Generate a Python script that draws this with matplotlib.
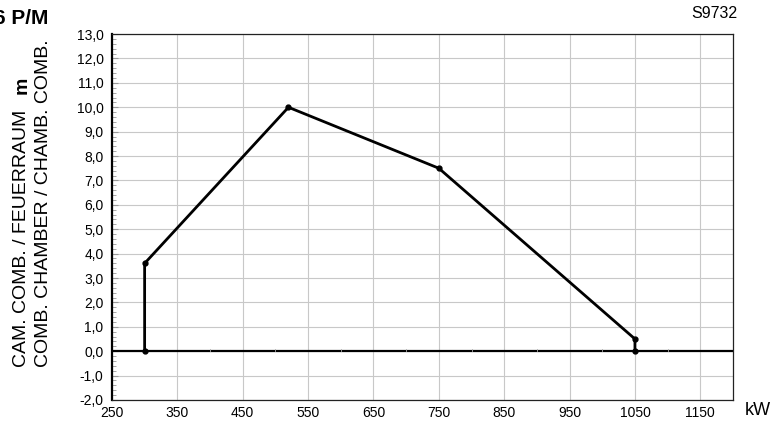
import numpy as np
import matplotlib as mpl
import matplotlib.pyplot as plt
from matplotlib.ticker import AutoMinorLocator

# working field of the burner: output (kW) vs combustion chamber pressure (m)
power_kw = [300, 300, 520, 750, 1050, 1050]
pressure_m = [0.0, 3.6, 10.0, 7.5, 0.5, 0.0]

x_ticks = [250, 350, 450, 550, 650, 750, 850, 950, 1050, 1150]
y_ticks = np.arange(-2, 14, 1)

mpl.rcParams['font.family'] = ['Liberation Sans', 'DejaVu Sans']

fig = plt.figure(figsize=(7.72, 4.21), dpi=100)
ax = fig.add_axes([0.145, 0.050, 0.8045, 0.869])

ax.set_xlim(250, 1200)
ax.set_ylim(-2, 13)
ax.set_xticks(x_ticks)
ax.set_yticks(y_ticks)
ax.set_yticklabels(['{:.1f}'.format(v).replace('.', ',') for v in y_ticks], fontsize=10)
ax.set_xticklabels([str(v) for v in x_ticks], fontsize=10)
ax.yaxis.set_minor_locator(AutoMinorLocator(5))
ax.tick_params(axis='x', length=0, pad=4)
ax.tick_params(axis='y', which='major', length=4, direction='in', color='#999999', pad=6)
ax.tick_params(axis='y', which='minor', length=3, direction='in', color='#999999')

ax.grid(True, which='major', color='#c8c8c8', linewidth=0.8)
ax.set_axisbelow(True)
for side in ['top', 'right', 'bottom']:
    ax.spines[side].set_linewidth(0.9)
    ax.spines[side].set_color('#222222')
ax.spines['left'].set_linewidth(1.6)
ax.spines['left'].set_color('black')

# zero line with small ticks every 100 kW
ax.axhline(0, color='black', linewidth=1.6, zorder=2)
for xm in range(300, 1200, 100):
    ax.plot([xm, xm], [0, 0.1], color='#aaaaaa', linewidth=0.6, zorder=2)

ax.plot(power_kw, pressure_m, color='black', linewidth=2.0, marker='o',
        markersize=3.5, solid_joinstyle='miter', zorder=3)

fig.text(-0.008, 0.955, '6 P/M', fontsize=15, fontweight='bold', ha='left', va='center')
fig.text(0.955, 0.967, 'S9732', fontsize=11.5, ha='right', va='center')
fig.text(0.982, 0.024, 'kW', fontsize=13, ha='center', va='center')

# two-line vertical axis title, bold unit at the end of the first line
y0 = 1 - 367 / 421
t1 = fig.text(22 / 772, y0, 'CAM. COMB. / FEUERRAUM   ', fontsize=14, rotation=90,
              rotation_mode='anchor', ha='left', va='center')
fig.canvas.draw()
bb = t1.get_window_extent()
fig.text(22 / 772, bb.y1 / fig.bbox.height, 'm', fontsize=14, fontweight='bold',
         rotation=90, rotation_mode='anchor', ha='left', va='center')
fig.text(44 / 772, y0, 'COMB. CHAMBER / CHAMB. COMB.', fontsize=14, rotation=90,
         rotation_mode='anchor', ha='left', va='center')

fig.savefig('out.png', dpi=100)
